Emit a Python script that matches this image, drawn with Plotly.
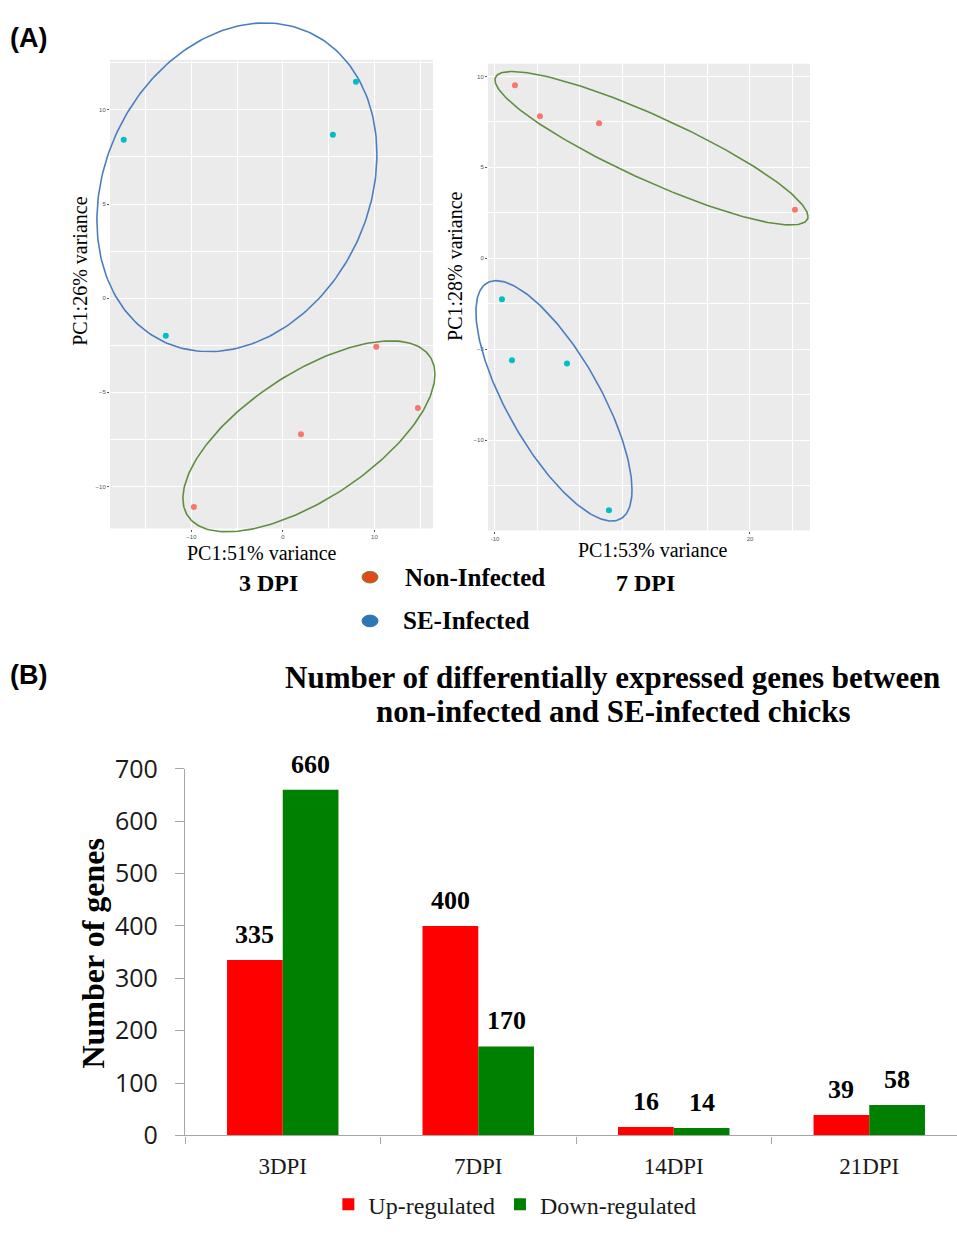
import numpy as np
import plotly.graph_objects as go

W, H = 957, 1237

# ---------------- Panel A data (PCA scores) ----------------
pca3_non_x = [10.2, 14.75, 1.97, -9.73]
pca3_non_y = [-2.58, -5.84, -7.23, -11.1]
pca3_se_x = [-17.4, 5.46, 7.98, -12.8]
pca3_se_y = [8.42, 8.68, 11.5, -2.0]

pca7_non_x = [-7.65, -4.71, 2.24, 25.29]
pca7_non_y = [9.52, 7.81, 7.43, 2.67]
pca7_se_x = [-9.18, -8.0, -1.53, 3.41]
pca7_se_y = [-2.25, -5.61, -5.78, -13.85]

# ellipse parameters: centre x, centre y, half-width, half-height, correlation
ell3_non = [2.84, -7.34, 13.77, 5.07, 0.65]
ell3_se = [-5.03, 5.89, 15.3, 8.73, 0.20]
ell7_non = [8.41, 6.05, 18.41, 4.22, -0.89]
ell7_se = [-3.06, -7.84, 9.18, 6.61, -0.74]

# tick labels of the 7 DPI PC1 axis (middle ones are covered in the original)
pc7_x_tickvals = [-10, 0, 10, 20]
pc7_x_ticktext = ["-10", "", "", "20"]

# ---------------- Panel B data ----------------
categories = ["3DPI", "7DPI", "14DPI", "21DPI"]
up_regulated = [335, 400, 16, 39]
down_regulated = [660, 170, 14, 58]

# ---------------- helpers ----------------
def dx(a, b):
    return [a / W, b / W]

def dy(top, bottom):
    return [1 - bottom / H, 1 - top / H]

def extend(rng, dom, newdom):
    s = (rng[1] - rng[0]) / (dom[1] - dom[0])
    return [rng[0] + (newdom[0] - dom[0]) * s, rng[1] + (newdom[1] - dom[1]) * s]

def ellipse(p, n=241):
    cx, cy, hx, hy, rho = p
    t = np.linspace(0, 2 * np.pi, n)
    d = np.arccos(rho)
    return cx + hx * np.cos(t), cy + hy * np.cos(t - d)

SERIF = "Liberation Serif"
SANS = "Liberation Sans"
RED_PT = "#F8766D"
CYAN_PT = "#00BFC4"
ELL_GREEN = "#5E8F3E"
ELL_BLUE = "#4A7EC0"

# panel boxes (pixels)
L_dom_x, L_dom_y = dx(110, 433), dy(43, 525)
R_dom_x, R_dom_y = dx(488, 810), dy(47, 527)
LE_dom_x, LE_dom_y = dx(86, 444), dy(0, 537)
RE_dom_x, RE_dom_y = dx(462, 820), dy(38, 532)

L_xr, L_yr = [-18.9, 16.4], [-12.24, 12.66]
R_xr, R_yr = [-10.82, 27.06], [-14.97, 10.70]

fig = go.Figure()

# points
fig.add_trace(go.Scatter(x=pca3_non_x, y=pca3_non_y, mode="markers", xaxis="x", yaxis="y",
                         marker=dict(color=RED_PT, size=6), showlegend=False))
fig.add_trace(go.Scatter(x=pca3_se_x, y=pca3_se_y, mode="markers", xaxis="x", yaxis="y",
                         marker=dict(color=CYAN_PT, size=6), showlegend=False))
fig.add_trace(go.Scatter(x=pca7_non_x, y=pca7_non_y, mode="markers", xaxis="x2", yaxis="y2",
                         marker=dict(color=RED_PT, size=6), showlegend=False))
fig.add_trace(go.Scatter(x=pca7_se_x, y=pca7_se_y, mode="markers", xaxis="x2", yaxis="y2",
                         marker=dict(color=CYAN_PT, size=6), showlegend=False))

# ellipses on larger overlay subplots sharing the same scales
for p, col, xa, ya in [(ell3_se, ELL_BLUE, "x3", "y3"), (ell3_non, ELL_GREEN, "x3", "y3"),
                       (ell7_non, ELL_GREEN, "x4", "y4"), (ell7_se, ELL_BLUE, "x4", "y4")]:
    ex, ey = ellipse(p)
    fig.add_trace(go.Scatter(x=ex, y=ey, mode="lines", xaxis=xa, yaxis=ya,
                             line=dict(color=col, width=1.6), showlegend=False,
                             hoverinfo="skip"))

# bars
fig.add_trace(go.Bar(x=categories, y=up_regulated, name="Up-regulated", xaxis="x5", yaxis="y5",
                     marker=dict(color="#FF0000", line=dict(width=0))))
fig.add_trace(go.Bar(x=categories, y=down_regulated, name="Down-regulated", xaxis="x5", yaxis="y5",
                     marker=dict(color="#008000", line=dict(width=0))))

pca_axis = dict(showgrid=True, gridcolor="white", gridwidth=1.3, zeroline=False, showline=False,
                ticks="outside", ticklen=2, tickcolor="#555555",
                tickfont=dict(family=SANS, size=6, color="#555555"), fixedrange=True)
hidden = dict(visible=False, showgrid=False, zeroline=False, fixedrange=True)

B_dom_x = dx(185, 957)
B_dom_y = dy(772, 1149)
cat_w = 195.5
B_xr = [-0.5, -0.5 + (957 - 185) / cat_w]

fig.update_layout(
    width=W, height=H, autosize=False,
    margin=dict(l=0, r=0, t=0, b=0),
    paper_bgcolor="white", plot_bgcolor="rgba(0,0,0,0)",
    xaxis=dict(domain=L_dom_x, range=L_xr, dtick=10, tick0=0,
               minor=dict(dtick=5, showgrid=True, gridcolor="white", gridwidth=0.6), anchor="y", **pca_axis),
    yaxis=dict(domain=L_dom_y, range=L_yr, dtick=5, tick0=0,
               minor=dict(dtick=2.5, showgrid=True, gridcolor="white", gridwidth=0.6), anchor="x", **pca_axis),
    xaxis2=dict(domain=R_dom_x, range=R_xr, tickmode="array", tickvals=pc7_x_tickvals,
                ticktext=pc7_x_ticktext,
                minor=dict(dtick=5, tick0=-5, showgrid=True, gridcolor="white", gridwidth=0.6),
                anchor="y2", **pca_axis),
    yaxis2=dict(domain=R_dom_y, range=R_yr, dtick=5, tick0=0,
                minor=dict(dtick=2.5, showgrid=True, gridcolor="white", gridwidth=0.6), anchor="x2", **pca_axis),
    xaxis3=dict(domain=LE_dom_x, range=extend(L_xr, L_dom_x, LE_dom_x), anchor="y3", **hidden),
    yaxis3=dict(domain=LE_dom_y, range=extend(L_yr, L_dom_y, LE_dom_y), anchor="x3", **hidden),
    xaxis4=dict(domain=RE_dom_x, range=extend(R_xr, R_dom_x, RE_dom_x), anchor="y4", **hidden),
    yaxis4=dict(domain=RE_dom_y, range=extend(R_yr, R_dom_y, RE_dom_y), anchor="x4", **hidden),
    xaxis5=dict(domain=B_dom_x, range=B_xr, anchor="y5", type="category",
                showline=True, linecolor="#A6A6A6", linewidth=1.2,
                ticks="outside", tickson="boundaries", ticklen=7, tickcolor="#A6A6A6",
                ticklabelstandoff=10, tickfont=dict(family=SERIF, size=23, color="#1a1a1a"),
                showgrid=False, zeroline=False, fixedrange=True),
    yaxis5=dict(domain=B_dom_y, range=[0, 700], dtick=100, anchor="x5",
                showline=True, linecolor="#A6A6A6", linewidth=1.2,
                ticks="outside", ticklen=9, tickcolor="#A6A6A6", ticklabelstandoff=12,
                tickfont=dict(family="Open Sans", size=25, color="#1a1a1a"),
                showgrid=False, zeroline=False, fixedrange=True),
    barmode="group", bargap=0.43, bargroupgap=0,
    showlegend=True,
    legend=dict(orientation="h", x=0.538, xanchor="center", y=1 - 1197 / H, yanchor="top",
                font=dict(family=SERIF, size=24, color="#1a1a1a"), itemwidth=30,
                bgcolor="rgba(0,0,0,0)"),
)

shapes = [
    dict(type="rect", xref="x domain", yref="y domain", x0=0, x1=1, y0=0, y1=1,
         fillcolor="#EBEBEB", line=dict(width=0), layer="below"),
    dict(type="rect", xref="x2 domain", yref="y2 domain", x0=0, x1=1, y0=0, y1=1,
         fillcolor="#EBEBEB", line=dict(width=0), layer="below"),
    # white label box over the 7 DPI axis ticks
    dict(type="rect", xref="paper", yref="paper", x0=560 / W, x1=746 / W, y0=1 - 548 / H, y1=1 - 528 / H,
         fillcolor="white", line=dict(width=0), layer="above"),
    # legend bullets for panel A
    dict(type="circle", xref="paper", yref="paper", x0=362 / W, x1=378 / W,
         y0=1 - 581 / H, y1=1 - 569 / H, fillcolor="#E2491A", line=dict(color="#6A8F3A", width=1)),
    dict(type="circle", xref="paper", yref="paper", x0=362 / W, x1=378 / W,
         y0=1 - 626 / H, y1=1 - 614 / H, fillcolor="#2E75B6", line=dict(color="#2E75B6", width=1)),
]
fig.update_layout(shapes=shapes)

ann = []

def txt(text, px, py, size, family=SERIF, xanchor="center", angle=0, color="black"):
    ann.append(dict(text=text, x=px / W, y=1 - py / H, xref="paper", yref="paper",
                    xanchor=xanchor, yanchor="middle", showarrow=False, textangle=angle,
                    font=dict(family=family, size=size, color=color)))

txt("<b>(A)</b>", 8, 21, 27, family=SANS, xanchor="left")
txt("<b>(B)</b>", 8, 676, 27, family=SANS, xanchor="left")
txt("PC1:26% variance", 80, 260, 20, angle=-90)
txt("PC1:51% variance", 262, 550, 20)
txt("<b>3 DPI</b>", 268, 581, 24)
txt("PC1:28% variance", 455, 255, 20, angle=-90)
txt("PC1:53% variance", 653, 547, 20)
txt("<b>7 DPI</b>", 645, 581, 24)
txt("<b>Non-Infected</b>", 403, 575, 25, xanchor="left")
txt("<b>SE-Infected</b>", 401, 620, 25, xanchor="left")
txt("<b>Number of differentially expressed genes between</b>", 612, 678, 31)
txt("<b>non-infected and SE-infected chicks</b>", 613, 713, 31)
txt("<b>Number of genes</b>", 93, 962, 32, angle=-90)

# value labels above bars
for vals, shift in [(up_regulated, -cat_w * (1 - 0.43) / 4), (down_regulated, cat_w * (1 - 0.43) / 4)]:
    for c, v in zip(categories, vals):
        ann.append(dict(text=f"<b>{v}</b>", x=c, y=v, xref="x5", yref="y5", xshift=shift,
                        yanchor="bottom", yshift=9, showarrow=False,
                        font=dict(family=SERIF, size=26, color="black")))

fig.update_layout(annotations=ann)

fig.write_html("out.html")
